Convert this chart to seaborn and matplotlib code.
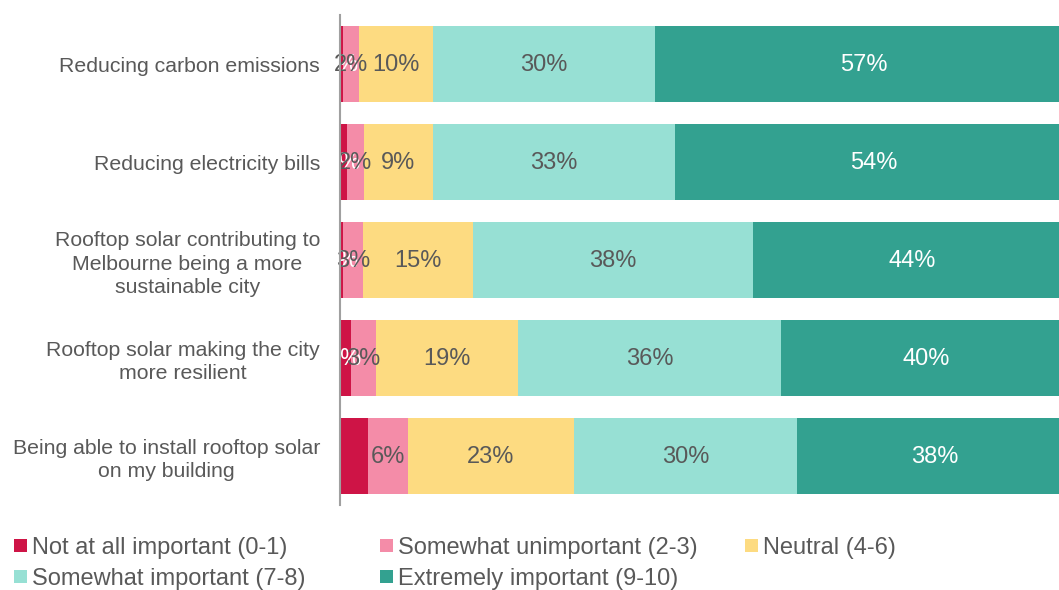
import numpy as np
import pandas as pd
import matplotlib
matplotlib.use("Agg")
import matplotlib.pyplot as plt
from matplotlib.patches import Patch
import seaborn as sns

sns.set_style("white")
plt.rcParams["font.family"] = ["Liberation Sans", "DejaVu Sans"]

categories = [
    "Reducing carbon emissions",
    "Reducing electricity bills",
    "Rooftop solar contributing to\nMelbourne being a more\nsustainable city",
    "Rooftop solar making the city\nmore resilient",
    "Being able to install rooftop solar\non my building",
]
series_names = [
    "Not at all important (0-1)",
    "Somewhat unimportant (2-3)",
    "Neutral (4-6)",
    "Somewhat important (7-8)",
    "Extremely important (9-10)",
]
not_at_all = [0.4, 1.0, 0.4, 1.5, 3.8]
somewhat_unimportant = [2.3, 2.3, 2.8, 3.4, 5.5]
neutral = [10.0, 9.4, 15.0, 19.4, 22.7]
somewhat_important = [30.4, 33.1, 38.2, 36.0, 30.5]
extremely_important = [56.9, 54.2, 43.6, 39.7, 37.6]
red_labels = ["0%", "1%", "0%", "2%", ""]

colors = ["#CE1446", "#F48CA8", "#FDDB81", "#97E0D4", "#33A190"]
label_colors = ["white", "#595959", "#595959", "#595959", "white"]
text_gray = "#595959"

series = [not_at_all, somewhat_unimportant, neutral, somewhat_important, extremely_important]
vals = np.array(series)            # shape (5 series, 5 categories)
cum = np.cumsum(vals, axis=0)

fig = plt.figure(figsize=(10.59, 5.90), dpi=100)
ax = fig.add_axes([339.7 / 1059, 85 / 590, 732 / 1059, 490 / 590])

# draw from the outermost cumulative total inward so each segment shows
for s in range(len(series) - 1, -1, -1):
    df = pd.DataFrame({"cat": categories, "x": cum[s]})
    sns.barplot(data=df, x="x", y="cat", color=colors[s], saturation=1,
                width=0.77, linewidth=0, orient="h", ax=ax)

ax.set_xlim(0, 100)
ax.set_ylim(4.5, -0.5)
ax.set_xlabel("")
ax.set_ylabel("")
ax.set_xticks([])
for side in ["top", "right", "bottom"]:
    ax.spines[side].set_visible(False)
ax.spines["left"].set_color("#A0A0A0")
ax.spines["left"].set_linewidth(1.5)
ax.spines["left"].set_zorder(5)

ax.tick_params(axis="y", length=0, pad=14.2, labelsize=15.3, labelcolor=text_gray)
for t in ax.get_yticklabels():
    t.set_multialignment("center")
    t.set_linespacing(1.27)

# segment labels
for s in range(len(series)):
    for i in range(len(categories)):
        v = vals[s, i]
        xc = cum[s, i] - v / 2
        if s == 0:
            txt = red_labels[i]
        else:
            txt = f"{v:.0f}%"
        if txt:
            ax.text(xc, i + 0.01, txt, ha="center", va="center", fontsize=17,
                    color=label_colors[s], zorder=3 if s == 0 else 4)

# legend, laid out in two rows like the reference
legend_pos = [(14 / 1059, 1 - 548 / 590), (380 / 1059, 1 - 548 / 590), (745 / 1059, 1 - 548 / 590),
              (14 / 1059, 1 - 579 / 590), (380 / 1059, 1 - 579 / 590)]
for s, name in enumerate(series_names):
    fig.legend(handles=[Patch(facecolor=colors[s], edgecolor="none", label=name)],
               loc="center left", bbox_to_anchor=legend_pos[s], frameon=False,
               fontsize=17, labelcolor=text_gray, handlelength=0.55, handleheight=0.5,
               handletextpad=0.2, borderpad=0, borderaxespad=0)

fig.savefig("out.png", dpi=100)
